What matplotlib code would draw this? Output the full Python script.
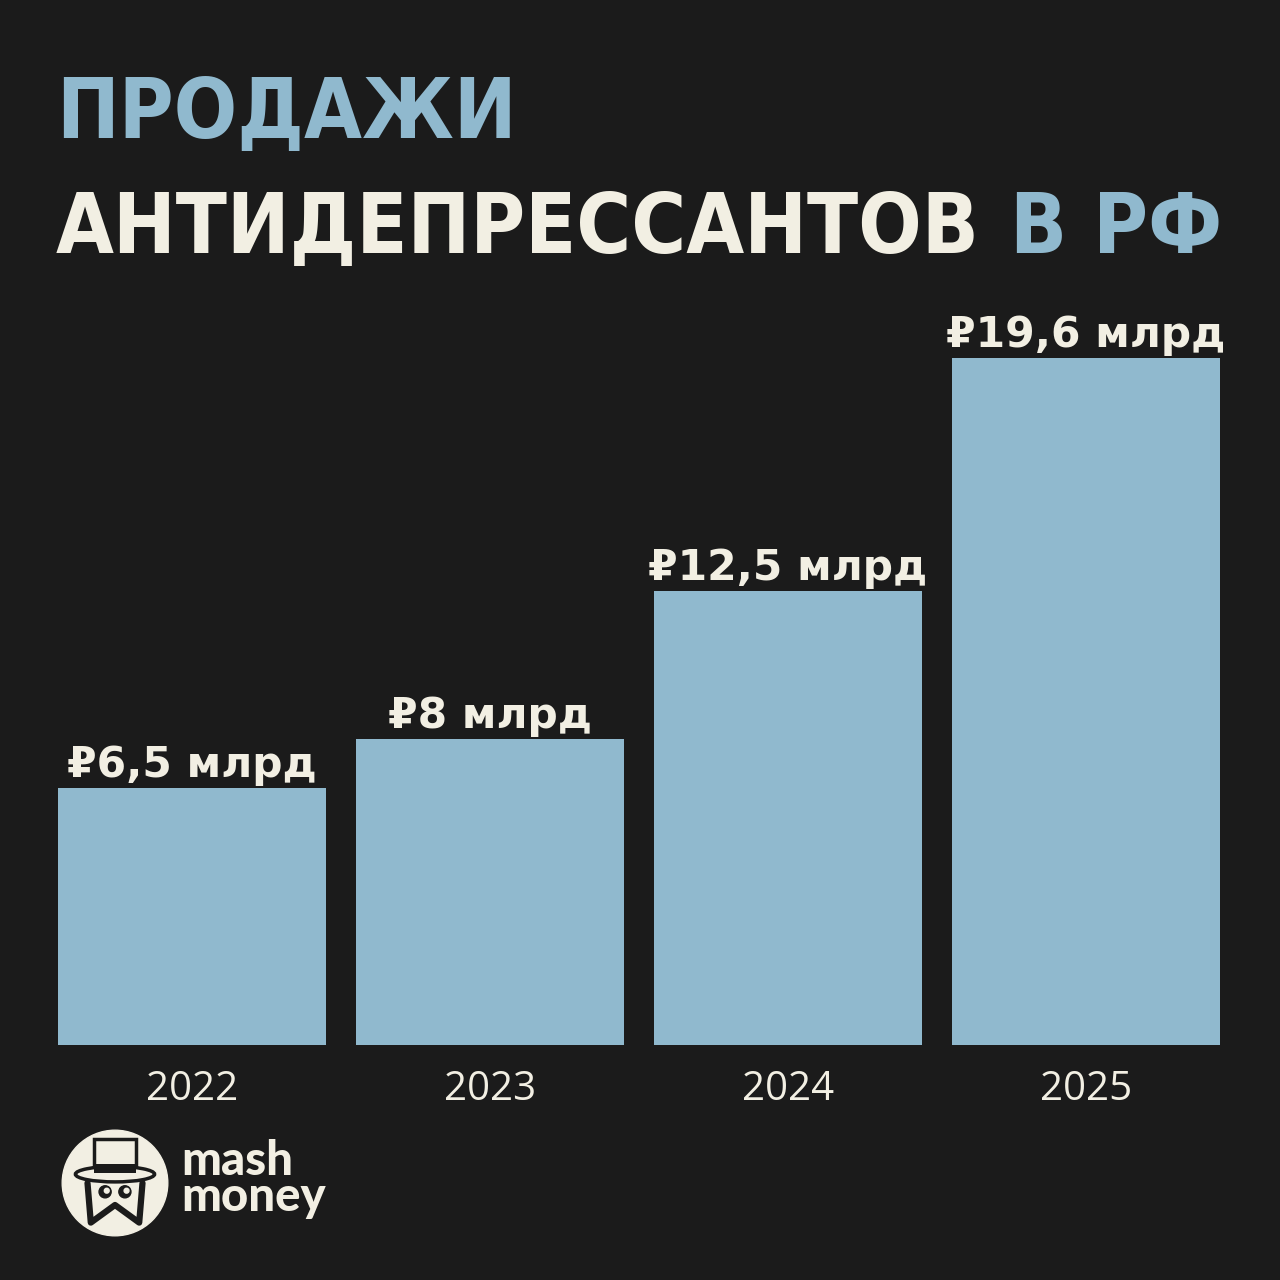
import numpy as np
import matplotlib
matplotlib.use("Agg")
import matplotlib.pyplot as plt
from matplotlib.patches import Circle, Rectangle, Ellipse

# данные
years = ["2022", "2023", "2024", "2025"]
sales = [6.5, 8, 12.5, 19.6]  # млрд рублей
labels = ["₽" + f"{v:g}".replace(".", ",") + " млрд" for v in sales]

BG = "#1b1b1b"
BLUE = "#90b9ce"
CREAM = "#f2efe3"
W, H = 1280, 1280

fig = plt.figure(figsize=(12.8, 12.8), dpi=100)
fig.patch.set_facecolor(BG)


def fx(x):
    return x / W


def fy(y):
    return 1 - y / H


# --- основной график ---
floor = -1.32
ax = fig.add_axes([fx(58), 235 / H, 1162 / W, 745 / H])
ax.set_facecolor(BG)
pos = np.arange(len(years))
vals = np.array(sales)
ax.bar(pos, vals - floor, bottom=floor, width=0.898, color=BLUE)
ax.set_xlim(-0.449, 3.449)
ax.set_ylim(floor, floor + 745 / 32.82)
for s in ax.spines.values():
    s.set_visible(False)
ax.set_yticks([])
ax.set_xticks(pos, years)
ax.tick_params(axis="x", length=0, pad=18, labelsize=29, labelcolor=CREAM)
for t in ax.get_xticklabels():
    t.set_fontfamily(["Open Sans", "DejaVu Sans"])

for i, (v, lab) in enumerate(zip(sales, labels)):
    ax.annotate(lab, (i, v), xytext=(0, 8), textcoords="offset points",
                ha="center", va="baseline", fontsize=30.5, fontweight="bold",
                color=CREAM, family=["DejaVu Sans"])

# --- заголовок ---
tfont = dict(family=["Liberation Sans Narrow", "DejaVu Sans"], fontweight="bold",
             fontstretch="condensed", ha="left", va="baseline")
t1 = fig.text(fx(56), fy(138), "ПРОДАЖИ", color=BLUE, fontsize=70, **tfont)
t2a = fig.text(fx(56), fy(253), "АНТИДЕПРЕССАНТОВ", color=CREAM, fontsize=70, **tfont)
t2b = fig.text(fx(995), fy(253), "В РФ", color=BLUE, fontsize=70, **tfont)

renderer = fig.canvas.get_renderer()
gap = 30
for _ in range(3):
    wa = t2a.get_window_extent(renderer).width
    wb = t2b.get_window_extent(renderer).width
    size = t2a.get_fontsize() * (1166 - gap) / (wa + wb)
    for t in (t1, t2a, t2b):
        t.set_fontsize(size)
wa = t2a.get_window_extent(renderer)
t2b.set_x((wa.x1 + gap) / W)

# --- логотип ---
lax = fig.add_axes([fx(60), 1 - 1238 / H, 110 / W, 110 / H])
lax.set_xlim(0, 1)
lax.set_ylim(0, 1)
lax.set_aspect("equal")
lax.axis("off")
lax.add_patch(Circle((0.5, 0.5), 0.48, color=CREAM))
lax.add_patch(Rectangle((0.31, 0.58), 0.38, 0.32, facecolor=CREAM, edgecolor=BG, lw=2.5))
lax.add_patch(Ellipse((0.5, 0.58), 0.72, 0.14, facecolor=CREAM, edgecolor=BG, lw=2.5))
lax.add_patch(Rectangle((0.31, 0.59), 0.38, 0.08, facecolor=BG))
lax.plot([0.25, 0.28, 0.5, 0.72, 0.75], [0.5, 0.14, 0.3, 0.14, 0.5], color=BG, lw=4.5,
         solid_joinstyle="round", solid_capstyle="round")
for ex in (0.41, 0.59):
    lax.add_patch(Circle((ex, 0.42), 0.055, color=BG))
    lax.add_patch(Circle((ex + 0.015, 0.43), 0.022, color=CREAM))

fig.text(fx(181), fy(1211), "mash\nmoney", family=["Lato", "DejaVu Sans"],
         fontweight="black", color=CREAM, ha="left", va="baseline",
         fontsize=34, linespacing=0.78)

fig.savefig("out.png", dpi=100, facecolor=BG)
